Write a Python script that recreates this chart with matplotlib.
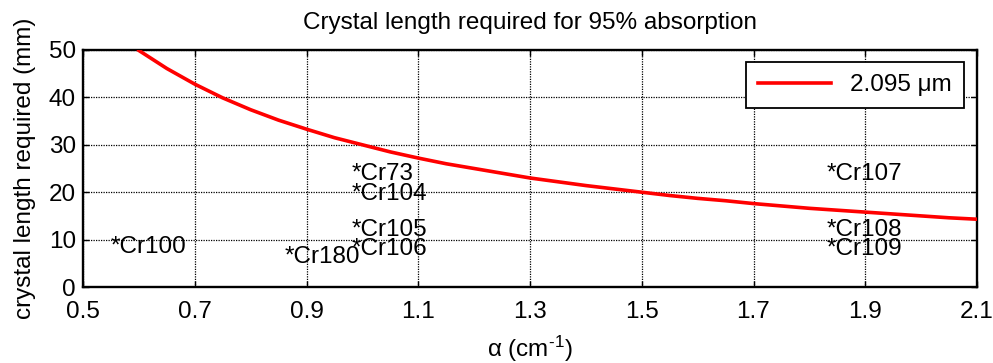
import matplotlib
matplotlib.use("Agg")
import matplotlib.pyplot as plt

plt.rcParams['font.family'] = ['Liberation Sans', 'DejaVu Sans']
plt.rcParams['mathtext.fontset'] = 'custom'
plt.rcParams['mathtext.rm'] = 'Liberation Sans'
plt.rcParams['mathtext.it'] = 'Liberation Sans'

# Curve data
alpha = [0.60, 0.65, 0.70, 0.75, 0.80, 0.85, 0.90, 0.95, 1.00, 1.05, 1.10,
         1.15, 1.20, 1.25, 1.30, 1.35, 1.40, 1.45, 1.50, 1.55, 1.60, 1.65,
         1.70, 1.75, 1.80, 1.85, 1.90, 1.95, 2.00, 2.05, 2.10]
length_mm = [49.9, 46.1, 42.8, 39.9, 37.4, 35.2, 33.3, 31.5, 30.0, 28.5, 27.2,
             26.0, 25.0, 24.0, 23.0, 22.2, 21.4, 20.7, 20.0, 19.3, 18.7, 18.2,
             17.6, 17.1, 16.6, 16.2, 15.8, 15.4, 15.0, 14.6, 14.3]
series_label = '2.095 μm'

# Crystal annotations
crystal_names = ['Cr100', 'Cr180', 'Cr73', 'Cr104', 'Cr105', 'Cr106',
                 'Cr107', 'Cr108', 'Cr109']
crystal_alpha = [0.55, 0.86, 0.98, 0.98, 0.98, 0.98, 1.83, 1.83, 1.83]
crystal_len = [8.5, 6.3, 23.9, 19.7, 12.0, 8.1, 23.9, 12.0, 8.1]

xticks = [0.5, 0.7, 0.9, 1.1, 1.3, 1.5, 1.7, 1.9, 2.1]
yticks = [0, 10, 20, 30, 40, 50]

FS = 17.5

fig = plt.figure(figsize=(9.93, 3.63), dpi=100)
ax = fig.add_axes([83/993, 76/363, 894/993, 237/363])

ax.plot(alpha, length_mm, color='#ff0000', lw=2.6, label=series_label, zorder=3)

for name, a, l in zip(crystal_names, crystal_alpha, crystal_len):
    ax.text(a, l, '*' + name, fontsize=FS, ha='left', va='center', zorder=4)

ax.set_xlim(0.5, 2.1)
ax.set_ylim(0, 50)
ax.set_xticks(xticks)
ax.set_xticklabels([f'{t:g}' for t in xticks])
ax.set_yticks(yticks)
ax.grid(True, color='black', linestyle=(0, (1.0, 1.0)), linewidth=0.9)
ax.tick_params(direction='in', top=True, right=True, labelsize=FS, length=4,
               width=1.0)
ax.tick_params(axis='x', pad=10)
ax.tick_params(axis='y', pad=5)
for s in ax.spines.values():
    s.set_linewidth(1.7)

ax.set_title('Crystal length required for 95% absorption', fontsize=FS, pad=15)
ax.set_xlabel('α (cm$^{\\text{-}1}$)', fontsize=FS, labelpad=8)
ax.set_ylabel('crystal length required (mm)', fontsize=FS, labelpad=9)

leg = ax.legend(loc='upper right', bbox_to_anchor=(0.9855, 0.949),
                fontsize=FS, fancybox=False, framealpha=1, edgecolor='black',
                handlelength=3.0, handletextpad=0.8, borderaxespad=0,
                borderpad=0.5)
leg.get_frame().set_linewidth(1.3)

fig.savefig('out.png', dpi=100)
